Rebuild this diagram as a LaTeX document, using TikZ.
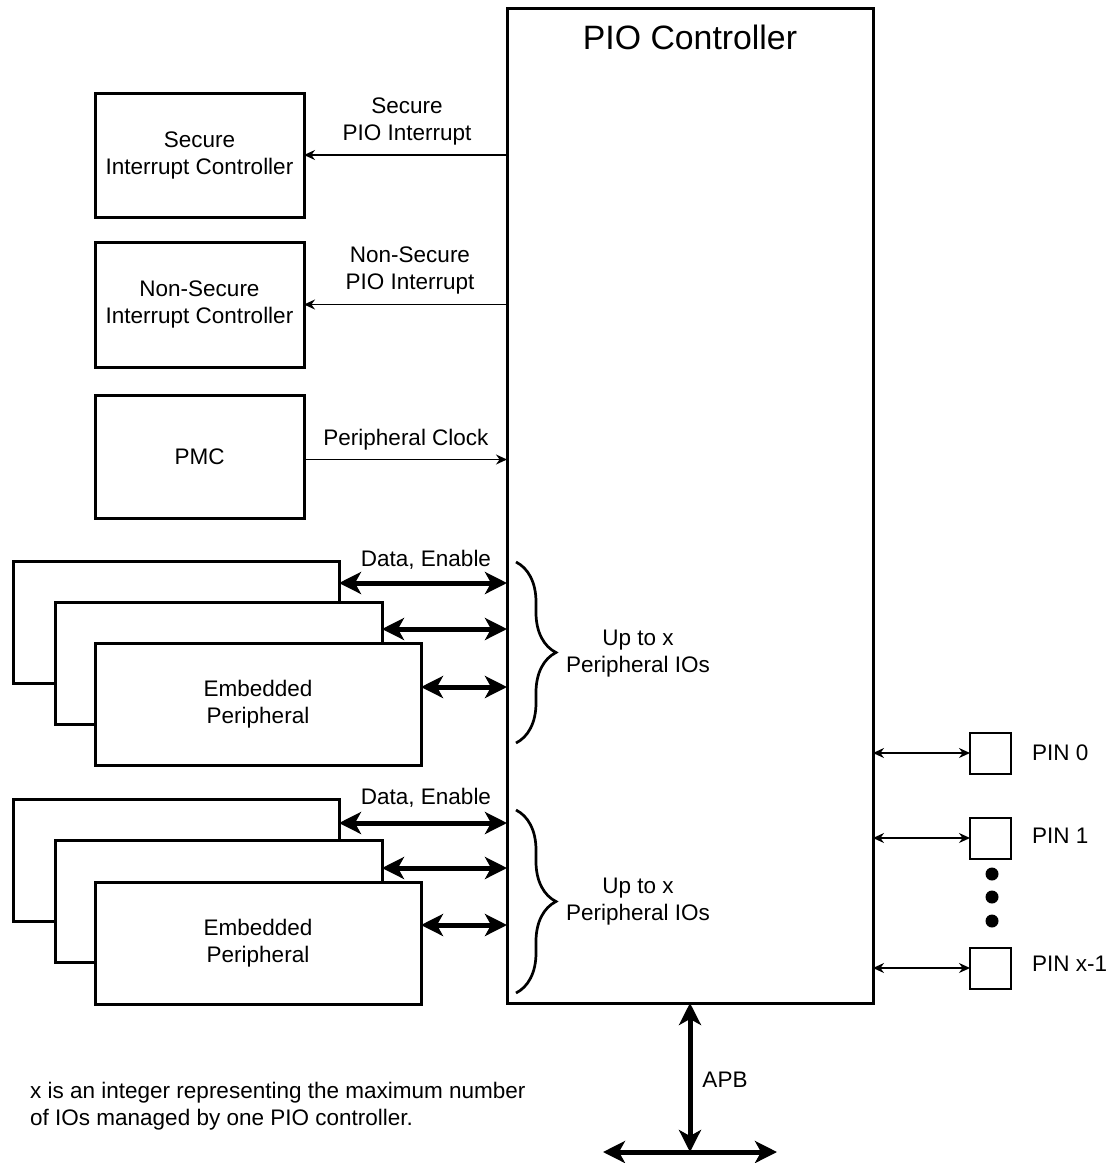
\documentclass[tikz,border=0pt]{standalone}
\usepackage{fontspec}
\setmainfont{Liberation Sans}
\usetikzlibrary{arrows.meta,decorations.pathreplacing,calc}
\begin{document}
\begin{tikzpicture}[x=1pt,y=-1pt,
  lbl/.style={font=\fontsize{22.5}{27}\selectfont, align=center, inner sep=0pt},
  blk/.style={draw, line width=3pt, fill=white, outer sep=0pt, inner sep=0pt,
    font=\fontsize{22.5}{27}\selectfont, align=center},
  pinbox/.style={draw, line width=2pt, fill=white, outer sep=0pt, inner sep=0pt,
    minimum width=41pt, minimum height=41pt},
  thinarr/.style={line width=1.4pt, >={Stealth[length=11pt,width=10pt]}},
  thickarr/.style={line width=5pt, >={Stealth[length=22pt,width=22pt,inset=6pt]}},
  bracestyle/.style={decorate, decoration={brace, amplitude=40pt}, line width=2.7pt},
  dotnode/.style={circle, fill=black, inner sep=0pt, minimum size=13pt}]
\useasboundingbox (0,0) rectangle (1107,1163);

% PIO controller
\node[blk, minimum width=366pt, minimum height=995pt] (pio) at (690,505.5) {};
\node[anchor=base, inner sep=0pt, font=\fontsize{33.8}{40}\selectfont] (title) at (690,49) {PIO Controller};

% left blocks
\node[blk, minimum width=209pt, minimum height=124pt] (sic) at (199.5,155) {Secure\\Interrupt Controller};
\node[blk, minimum width=209pt, minimum height=125pt] (nsic) at (199.5,304.5) {Non-Secure\\Interrupt Controller};
\node[blk, minimum width=209pt, minimum height=123pt] (pmc) at (199.5,456.5) {PMC};

% group 1 peripherals
\node[blk, minimum width=326pt, minimum height=122pt] (bk1) at (176,622) {};
\node[blk, minimum width=327pt, minimum height=122pt] (md1) at (218.5,663) {};
\node[blk, minimum width=326pt, minimum height=122pt] (fr1) at (258,704) {Embedded\\Peripheral};
% group 2 peripherals
\node[blk, minimum width=326pt, minimum height=122pt] (bk2) at (176,860) {};
\node[blk, minimum width=327pt, minimum height=122pt] (md2) at (218.5,901) {};
\node[blk, minimum width=326pt, minimum height=122pt] (fr2) at (258,943) {Embedded\\Peripheral};

% interrupt / clock connectors
\draw[thinarr,->] (sic.east -| pio.west) -- (sic.east);
\node[lbl] (seclbl) at (407,121) {Secure\\PIO Interrupt};
\draw[thinarr,->] (nsic.east -| pio.west) -- (nsic.east);
\node[lbl] (nseclbl) at (410,270) {Non-Secure\\PIO Interrupt};
\coordinate (pmcout) at ([yshift=-3pt]pmc.east);
\draw[thinarr,->] (pmcout) -- (pmcout -| pio.west);
\node[lbl] (pclk) at (406,440) {Peripheral Clock};

% group 1 buses
\coordinate (a11) at ([yshift=-22pt]bk1.north east);
\coordinate (a12) at ([yshift=-27pt]md1.north east);
\coordinate (a13) at ([yshift=-44pt]fr1.north east);
\draw[thickarr,<->] (a11) -- (a11 -| pio.west);
\draw[thickarr,<->] (a12) -- (a12 -| pio.west);
\draw[thickarr,<->] (a13) -- (a13 -| pio.west);
\node[lbl] (de1) at (426,560) {Data, Enable};
\coordinate (bt1) at (516,562);
\coordinate (bb1) at (516,743);
\draw[bracestyle] (bt1) -- (bb1);
\node[lbl] (up1) at (638,654) {Up to x\\Peripheral IOs};

% group 2 buses
\coordinate (a21) at ([yshift=-24pt]bk2.north east);
\coordinate (a22) at ([yshift=-28pt]md2.north east);
\coordinate (a23) at ([yshift=-43pt]fr2.north east);
\draw[thickarr,<->] (a21) -- (a21 -| pio.west);
\draw[thickarr,<->] (a22) -- (a22 -| pio.west);
\draw[thickarr,<->] (a23) -- (a23 -| pio.west);
\node[lbl] (de2) at (426,798) {Data, Enable};
\coordinate (bt2) at (516,810);
\coordinate (bb2) at (516,993);
\draw[bracestyle] (bt2) -- (bb2);
\node[lbl] (up2) at (638,902) {Up to x\\Peripheral IOs};

% pins
\node[pinbox] (pin0) at (990.5,753) {};
\node[pinbox] (pin1) at (990.5,838) {};
\node[pinbox] (pinx) at (990.5,968) {};
\draw[thinarr,<->] (pin0.west -| pio.east) -- (pin0.west);
\draw[thinarr,<->] (pin1.west -| pio.east) -- (pin1.west);
\draw[thinarr,<->] (pinx.west -| pio.east) -- (pinx.west);
\node[lbl, anchor=west] (pin0l) at (1032,753) {PIN 0};
\node[lbl, anchor=west] (pin1l) at (1032,836) {PIN 1};
\node[lbl, anchor=west] (pinxl) at (1032,964) {PIN x-1};
\node[dotnode] (d1) at (992,874) {};
\node[dotnode] (d2) at (992,897) {};
\node[dotnode] (d3) at (992,921) {};

% APB
\coordinate (apbj) at (690,1152);
\coordinate (apbl) at (603,1152);
\coordinate (apbr) at (777,1152);
\draw[thickarr,<->] (pio.south) -- (apbj);
\draw[thickarr,<->] (apbl) -- (apbr);
\node[lbl] (apb) at (725,1080) {APB};

% note
\node[lbl, anchor=west, align=left] (note) at (30,1106.5) {x is an integer representing the maximum number\\of IOs managed by one PIO controller.};
\end{tikzpicture}
\end{document}
